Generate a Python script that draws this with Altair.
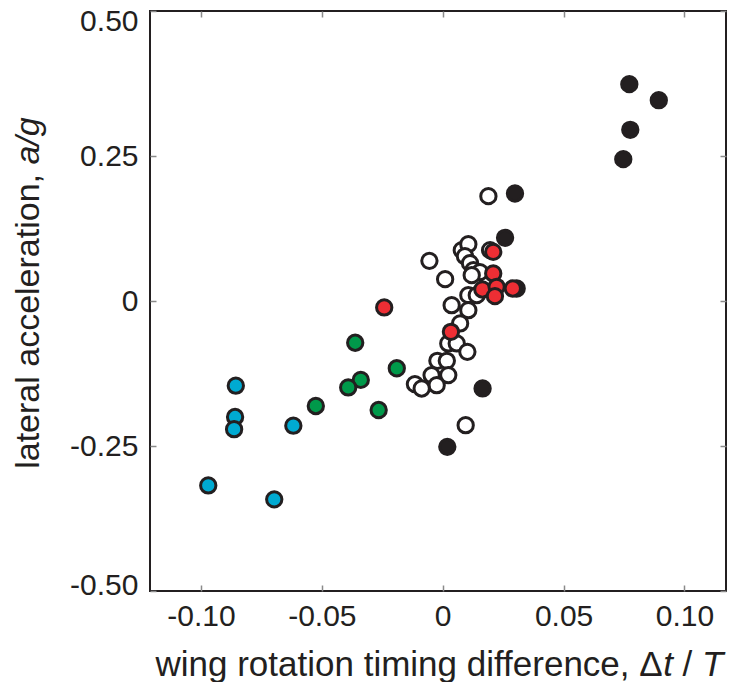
import altair as alt
import pandas as pd

# ---- data ----
black_x = [0.0772, 0.0894, 0.0776, 0.0747, 0.0299, 0.0258, 0.0306, 0.0165, 0.0019]
black_y = [0.3739, 0.3463, 0.2951, 0.2446, 0.1854, 0.1089, 0.0216, -0.1507, -0.2515]

open_x = [0.0189, -0.0055, 0.0010, 0.0079, 0.0106, 0.0092, 0.0113, 0.0127, 0.0154, 0.0120,
          0.0196, 0.0037, 0.0106, 0.0141, 0.0106, 0.0072, 0.0023, 0.0058, 0.0102, -0.0022,
          0.0017, -0.0046, 0.0023, -0.0025, -0.0115, -0.0087, 0.0095]
open_y = [0.1808, 0.0692, 0.0377, 0.0877, 0.0980, 0.0773, 0.0653, 0.0532, 0.0498, 0.0446,
          0.0877, -0.0072, 0.0101, 0.0101, -0.0158, -0.0387, -0.0732, -0.0732, -0.0877, -0.1032,
          -0.1032, -0.1278, -0.1278, -0.1451, -0.1433, -0.1508, -0.2141]

red_x = [-0.0242, 0.0034, 0.0209, 0.0209, 0.0164, 0.0223, 0.0216, 0.0290]
red_y = [-0.0111, -0.0532, 0.0847, 0.0475, 0.0199, 0.0244, 0.0084, 0.0216]

green_x = [-0.0362, -0.0190, -0.0339, -0.0391, -0.0525, -0.0265]
green_y = [-0.072, -0.116, -0.136, -0.149, -0.181, -0.188]

blue_x = [-0.0856, -0.0859, -0.0863, -0.0618, -0.0970, -0.0697]
blue_y = [-0.146, -0.200, -0.221, -0.215, -0.318, -0.342]

x_ticks = [-0.10, -0.05, 0.0, 0.05, 0.10]
y_ticks = [-0.50, -0.25, 0.0, 0.25, 0.50]

groups = ["open", "black", "green", "blue", "red"]
fills = ["#ffffff", "#231f20", "#00994a", "#00aad2", "#ee2e34"]

rows = []
for g, xs, ys in [("open", open_x, open_y), ("black", black_x, black_y),
                  ("green", green_x, green_y), ("blue", blue_x, blue_y),
                  ("red", red_x, red_y)]:
    for a, b in zip(xs, ys):
        rows.append({"dt": a, "acc": b, "group": g, "order": groups.index(g)})
df = pd.DataFrame(rows)

FONT = "Liberation Sans"
INK = "#231f20"
TICK = "#8a8a8a"
LABEL_SIZE = 30
x_dom = [-0.1211, 0.1172]
y_dom = [-0.5, 0.5]

lab = "datum.value == 0 ? '0' : (datum.value < 0 ? '-' : '') + format(abs(datum.value), '.2f')"

x_scale = alt.Scale(domain=x_dom, nice=False, zero=False)
y_scale = alt.Scale(domain=y_dom, nice=False, zero=False)

points = alt.Chart(df).mark_point(
    shape="circle", filled=True, size=235, stroke=INK, strokeWidth=3, opacity=1
).encode(
    x=alt.X("dt:Q", scale=x_scale,
            axis=alt.Axis(values=x_ticks, labelExpr=lab, domain=False, grid=False,
                          tickSize=alt.ExprRef("-6"), tickColor=TICK, tickWidth=1.5,
                          labelPadding=16, labelFontSize=LABEL_SIZE, labelFont=FONT,
                          labelColor=INK, title=None)),
    y=alt.Y("acc:Q", scale=y_scale,
            axis=alt.Axis(values=y_ticks, labelExpr=lab, domain=False, grid=False,
                          tickSize=alt.ExprRef("-6"), tickColor=TICK, tickWidth=1.5,
                          labelPadding=18, labelFontSize=LABEL_SIZE, labelFont=FONT,
                          labelColor=INK,
                          labelOffset={"condition": [{"test": "datum.value > 0.4", "value": 10},
                                                     {"test": "datum.value < -0.4", "value": -6}],
                                       "value": 0},
                          title=None)),
    fill=alt.Fill("group:N", scale=alt.Scale(domain=groups, range=fills), legend=None),
    order=alt.Order("order:Q"),
)

frame = alt.Chart(df).mark_point(opacity=0).encode(
    x=alt.X("dt:Q", scale=x_scale,
            axis=alt.Axis(orient="top", values=x_ticks, labels=False, domain=False, grid=False,
                          tickSize=alt.ExprRef("-6"), tickColor=TICK, tickWidth=1.5,
                          title=None)),
    y=alt.Y("acc:Q", scale=y_scale,
            axis=alt.Axis(orient="right", values=y_ticks, labels=False, domain=False, grid=False,
                          tickSize=alt.ExprRef("-6"), tickColor=TICK, tickWidth=1.5,
                          title=None)),
)

# axis titles with italic parts (positions relative to the plot origin)
one = alt.Chart(pd.DataFrame({"k": [0]}))


def txt(s, x, y, italic=False, angle=0, size=35):
    return one.mark_text(
        text=s, font=FONT, fontSize=size, color=INK, align="left", baseline="alphabetic",
        fontStyle="italic" if italic else "normal", angle=angle,
    ).encode(x=alt.value(x), y=alt.value(y))


OX, OY = 150, 11  # page position of plot origin
XB = 676 - OY      # x-title baseline
xt = [
    txt("wing rotation timing difference, Δ", 155.5 - OX, XB),
    txt("t", 663.2 - OX, XB, italic=True),
    txt("/", 682.6 - OX, XB),
    txt("T", 702.1 - OX, XB, italic=True),
]
YB = 39 - OX       # y-title baseline (rotated)
yt = [
    txt("lateral acceleration,", YB, 468.8 - OY, angle=270, size=34),
    txt("a/g", YB, 164.6 - OY, italic=True, angle=270, size=34),
]

chart = alt.layer(points, frame, *xt, *yt).resolve_scale(
    x="independent", y="independent"
).properties(
    width=576, height=580,
    autosize=alt.AutoSizeParams(type="none"),
    padding={"left": 142, "top": 3, "right": 1, "bottom": 91},
    background="white",
).configure_view(stroke=INK, strokeWidth=2)

chart.save("out.html", embed_options={"renderer": "svg", "actions": False})
